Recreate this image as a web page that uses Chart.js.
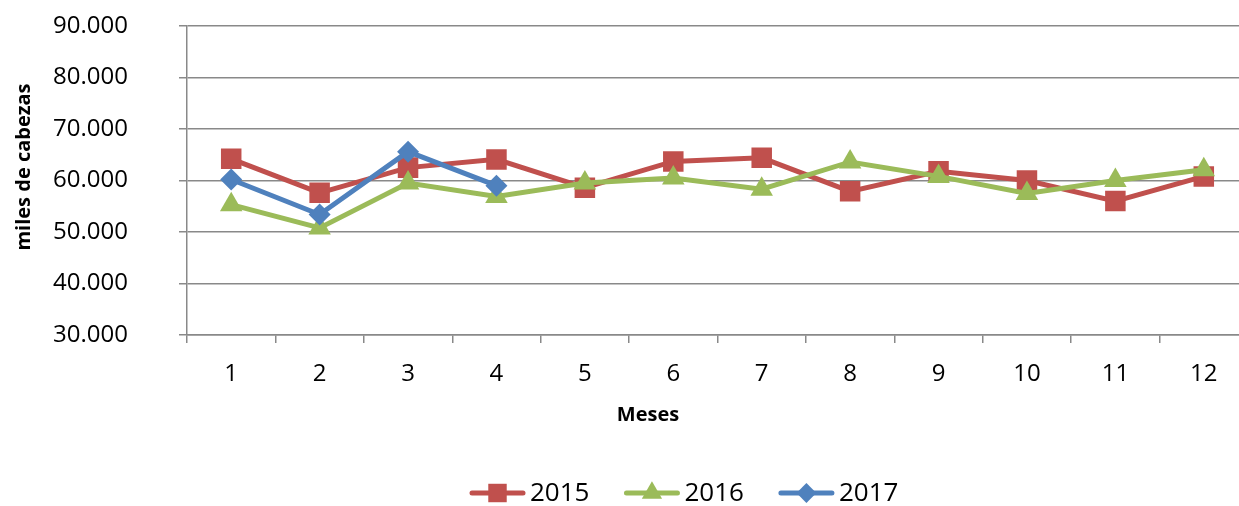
<!DOCTYPE html>
<html>
<head>
<meta charset="utf-8">
<script src="https://cdn.jsdelivr.net/npm/chart.js@4.4.1/dist/chart.umd.min.js"></script>
<style>
  html, body { margin: 0; padding: 0; background: #fff; overflow: hidden; }
  canvas { display: block; }
</style>
</head>
<body>
<!-- el area del grafico original sigue unos pixeles mas alla del borde derecho -->
<canvas id="meses-chart" width="1248" height="506"></canvas>
<script>
const meses = ['1', '2', '3', '4', '5', '6', '7', '8', '9', '10', '11', '12'];
const serie2015 = [64200, 57600, 62500, 64100, 58600, 63700, 64400, 57900, 61800, 60000, 56000, 60800];
const serie2016 = [55300, 50800, 59500, 56900, 59500, 60500, 58300, 63600, 60800, 57500, 60000, 62100];
const serie2017 = [60200, 53400, 65600, 59000];
const yMin = 30000;
const yMax = 90000;
const yStep = 10000;

const gris = '#898989';
const fuente = '"Open Sans", "Liberation Sans", sans-serif';

const formatoMiles = (v) => String(v).replace(/\B(?=(\d{3})+(?!\d))/g, '.');

// titulos de ejes y leyenda dibujados a mano
const extras = {
    id: 'extras',
    afterDraw(chart) {
        const ctx = chart.ctx;
        ctx.save();
        ctx.fillStyle = '#000';
        ctx.textBaseline = 'middle';
        ctx.textAlign = 'center';
        ctx.font = 'bold 20px ' + fuente;
        ctx.fillText('Meses', 648, 415);

        ctx.save();
        ctx.translate(24, 167);
        ctx.rotate(-Math.PI / 2);
        ctx.fillText('miles de cabezas', 0, 0);
        ctx.restore();

        // leyenda
        let x = 470;
        const y = 493;
        ctx.font = '26px ' + fuente;
        ctx.textAlign = 'left';
        chart.data.datasets.forEach((ds) => {
            ctx.strokeStyle = ds.borderColor;
            ctx.fillStyle = ds.borderColor;
            ctx.lineWidth = 5;
            ctx.lineCap = 'round';
            ctx.beginPath();
            ctx.moveTo(x + 2, y);
            ctx.lineTo(x + 53, y);
            ctx.stroke();
            Chart.helpers.drawPoint(ctx, {
                pointStyle: ds.pointStyle,
                radius: ds.pointRadius * 0.9,
                borderWidth: 0,
                rotation: 0
            }, x + 27.5, y);
            ctx.fillStyle = '#000';
            ctx.fillText(ds.label, x + 60, y + 1);
            x += 60 + ctx.measureText(ds.label).width + 35;
        });
        ctx.restore();
    }
};

const mesesChart = new Chart(document.getElementById('meses-chart'), {
    type: 'line',
    data: {
        labels: meses,
        datasets: [{
            label: '2015',
            data: serie2015,
            borderColor: '#C0504D',
            backgroundColor: '#C0504D',
            pointStyle: 'rect',
            pointRadius: 14.5,
            order: 3
        }, {
            label: '2016',
            data: serie2016,
            borderColor: '#9BBB59',
            backgroundColor: '#9BBB59',
            pointStyle: 'triangle',
            pointRadius: 13,
            order: 2
        }, {
            label: '2017',
            data: serie2017,
            borderColor: '#4F81BD',
            backgroundColor: '#4F81BD',
            pointStyle: 'rectRot',
            pointRadius: 11,
            order: 1
        }]
    },
    options: {
        responsive: false,
        animation: false,
        devicePixelRatio: 1,
        elements: {
            line: { borderWidth: 5, tension: 0 },
            point: { borderWidth: 0, hoverRadius: 14 }
        },
        layout: {
            autoPadding: false,
            padding: { top: 26, right: 0, bottom: 0, left: 0 }
        },
        plugins: {
            legend: { display: false },
            tooltip: { enabled: false }
        },
        scales: {
            x: {
                offset: true,
                afterFit: (scale) => {
                    scale.height = 171;
                    scale.paddingLeft = 0;
                    scale.paddingRight = 0;
                },
                grid: {
                    offset: true,
                    drawOnChartArea: false,
                    drawTicks: true,
                    tickLength: 8,
                    color: gris,
                    lineWidth: 1.5
                },
                border: { color: gris, width: 1.5 },
                ticks: {
                    color: '#000',
                    padding: 17,
                    font: { family: fuente, size: 24 }
                }
            },
            y: {
                min: yMin,
                max: yMax,
                afterFit: (scale) => {
                    scale.width = 187;
                    scale.paddingTop = 0;
                    scale.paddingBottom = 0;
                },
                grid: {
                    color: gris,
                    lineWidth: 1.5,
                    tickLength: 8
                },
                border: { color: gris, width: 1.5 },
                ticks: {
                    stepSize: yStep,
                    color: '#000',
                    padding: 51,
                    font: { family: fuente, size: 24 },
                    callback: (v) => formatoMiles(v)
                }
            }
        }
    },
    plugins: [extras]
});
</script>
</body>
</html>
